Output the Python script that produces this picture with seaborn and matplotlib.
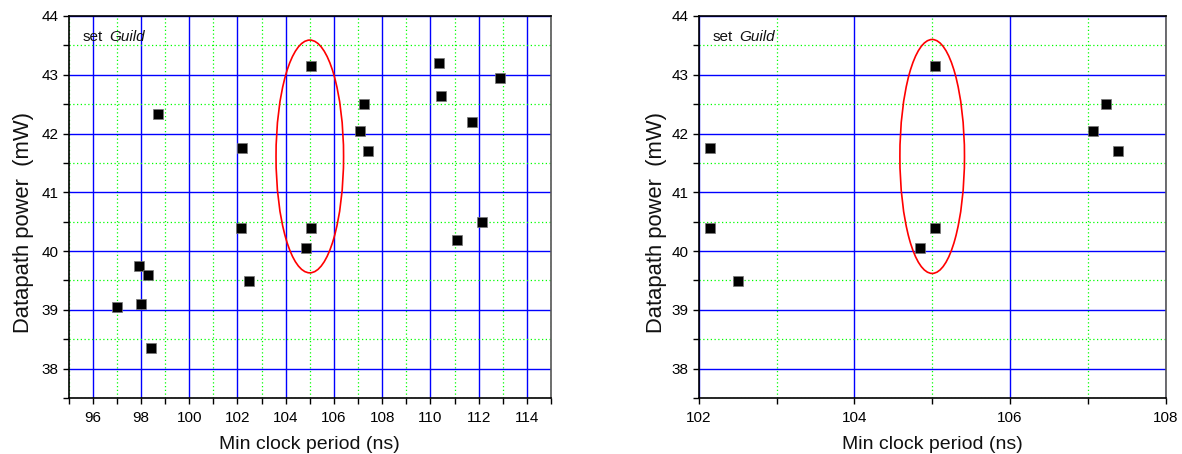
import numpy as np
import pandas as pd
import matplotlib
matplotlib.use("Agg")
import matplotlib.pyplot as plt
from matplotlib.patches import Ellipse
from matplotlib.ticker import MultipleLocator
from matplotlib.transforms import offset_copy
import seaborn as sns

# ---- data ----
all_period = [97.0, 97.9, 98.0, 98.28, 98.41, 98.72, 102.2, 102.14, 102.5,
              104.84, 105.05, 105.05, 107.08, 107.23, 107.41, 110.36, 110.43,
              111.72, 111.12, 112.12, 112.9]
all_power = [39.05, 39.75, 39.1, 39.59, 38.35, 42.34, 41.75, 40.4, 39.49,
             40.05, 43.15, 40.4, 42.04, 42.5, 41.7, 43.2, 42.64,
             42.19, 40.19, 40.5, 42.94]

zoom_period = [102.15, 102.15, 102.5, 104.84, 105.04, 105.04, 107.06, 107.23, 107.39]
zoom_power = [41.75, 40.4, 39.49, 40.05, 43.15, 40.4, 42.05, 42.5, 41.7]

left_xticks = [96, 98, 100, 102, 104, 106, 108, 110, 112, 114]
right_xticks = [102, 104, 106, 108]
yticks = [38, 39, 40, 41, 42, 43, 44]

df_all = pd.DataFrame({"period": all_period, "power": all_power})
df_zoom = pd.DataFrame({"period": zoom_period, "power": zoom_power})

sns.set_theme(style="white")
plt.rcParams['font.family'] = ['Liberation Sans', 'DejaVu Sans']

fig = plt.figure(figsize=(11.82, 4.54), dpi=100)
ax1 = fig.add_axes([0.058, 0.1233, 0.4082, 0.8415])
ax2 = fig.add_axes([0.5911, 0.1233, 0.3951, 0.8415])


def style(ax, xlim, xticks):
    ax.set_xlim(*xlim)
    ax.set_ylim(37.5, 44)
    ax.set_xticks(xticks)
    ax.xaxis.set_minor_locator(MultipleLocator(1))
    ax.set_yticks(yticks)
    ax.yaxis.set_minor_locator(MultipleLocator(0.5))
    ax.grid(which="major", color="#0000ff", linewidth=1.0, linestyle="-", zorder=0)
    ax.grid(which="minor", color="#00ff00", linewidth=0.9, linestyle=(0, (1, 2)), zorder=0)
    ax.set_axisbelow(True)
    for s in ax.spines.values():
        s.set_color("black")
        s.set_linewidth(1.2)
    ax.spines["right"].set_color("#555555")
    ax.tick_params(which="both", direction="out", bottom=True, left=True,
                   top=False, right=False, colors="black", labelsize=11)
    ax.tick_params(which="both", length=4, width=1)
    ax.tick_params(axis="x", pad=5)
    ax.set_xlabel("Min clock period (ns)", fontsize=14, color="#111111", labelpad=8)
    ax.set_ylabel("Datapath power  (mW)", fontsize=15.8, color="#111111")
    ax.text(0.03, 0.946, "set", transform=ax.transAxes, fontsize=11,
            va="center", ha="left", color="#111111")
    ax.text(0.03, 0.946, "Guild",
            transform=offset_copy(ax.transAxes, fig=fig, x=19, y=0, units="points"),
            fontsize=11, style="italic", va="center", ha="left", color="#111111")


sns.scatterplot(data=df_all, x="period", y="power", marker="s", s=45,
                color="black", edgecolor="#777777", linewidth=0.5, ax=ax1, zorder=3)
style(ax1, (95, 115), left_xticks)
ax1.yaxis.set_label_coords(-0.072, 0.46)
ax1.add_patch(Ellipse((105.0, 41.61), 2.8, 3.96, fill=False, edgecolor="red",
                      linewidth=1.2, zorder=2))

sns.scatterplot(data=df_zoom, x="period", y="power", marker="s", s=45,
                color="black", edgecolor="#777777", linewidth=0.5, ax=ax2, zorder=3)
style(ax2, (102, 108), right_xticks)
ax2.yaxis.set_label_coords(-0.068, 0.46)
ax2.add_patch(Ellipse((105.0, 41.61), 0.83, 3.98, fill=False, edgecolor="red",
                      linewidth=1.2, zorder=2))

fig.savefig("out.png", dpi=100)
